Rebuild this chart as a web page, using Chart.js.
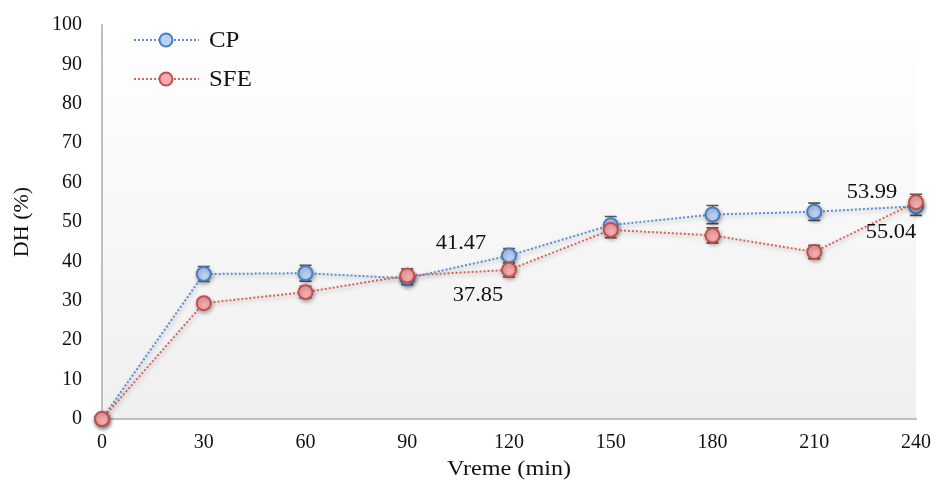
<!DOCTYPE html>
<html>
<head>
<title>DH chart</title>
<script src="https://cdn.jsdelivr.net/npm/chart.js@4.4.1/dist/chart.umd.min.js"></script>
<style>
  body { margin: 0; background: #ffffff; }
  #wrap { width: 936px; height: 485px; position: relative; }
</style>
</head>
<body>
<div id="wrap"><canvas id="dh"></canvas></div>
<script>
// data
var times = [0, 30, 60, 90, 120, 150, 180, 210, 240];
var cpValues = [0, 36.8, 37.0, 35.7, 41.47, 49.2, 51.9, 52.6, 53.99];
var sfeValues = [0, 29.4, 32.2, 36.4, 37.85, 48.0, 46.6, 42.4, 55.04];
var cpErr = [0, 1.9, 2.0, 1.6, 1.8, 2.2, 2.3, 2.2, 2.3];
var sfeErr = [0, 1.2, 1.5, 1.7, 1.8, 2.0, 1.9, 1.7, 2.0];
var yTicks = [0, 10, 20, 30, 40, 50, 60, 70, 80, 90, 100];
var xTitle = 'Vreme (min)';
var yTitle = 'DH (%)';
// value labels: [series, index, dx, dy]
var valueLabels = [[0, 4, -48, -12], [1, 4, -31, 26], [0, 8, -44, -14], [1, 8, -25, 31]];

var serif = "'Liberation Serif', 'Times New Roman', serif";

function pts(vals) {
  return times.map(function (t, i) { return { x: t, y: vals[i] }; });
}

// text a little wider than the font, like the original figure
function wideText(c, txt, x, y, sx) {
  c.save();
  c.translate(x, y);
  c.scale(sx, 1);
  c.fillText(txt, 0, 0);
  c.restore();
}

// plot background, error bars, legend, value labels, axis titles
var extras = {
  id: 'extras',
  beforeDraw: function (chart) {
    var a = chart.chartArea, c = chart.ctx;
    var g = c.createLinearGradient(0, a.top, 0, a.bottom);
    g.addColorStop(0, '#ffffff');
    g.addColorStop(1, '#efefef');
    c.save();
    c.fillStyle = g;
    c.fillRect(a.left, a.top, a.right - a.left, a.bottom - a.top);
    c.restore();
  },
  beforeDatasetsDraw: function (chart) {
    var c = chart.ctx, xs = chart.scales.x, ys = chart.scales.y;
    c.save();
    c.strokeStyle = '#555555';
    c.lineWidth = 1.6;
    [[cpValues, cpErr], [sfeValues, sfeErr]].forEach(function (s) {
      s[0].forEach(function (v, i) {
        var e = s[1][i];
        if (!e) return;
        var x = xs.getPixelForValue(times[i]);
        var y1 = ys.getPixelForValue(v + e), y2 = ys.getPixelForValue(v - e);
        c.beginPath();
        c.moveTo(x, y1); c.lineTo(x, y2);
        c.moveTo(x - 6, y1); c.lineTo(x + 6, y1);
        c.moveTo(x - 6, y2); c.lineTo(x + 6, y2);
        c.stroke();
      });
    });
    c.restore();
    c.save();
    c.shadowColor = 'rgba(0,0,0,0.3)';
    c.shadowBlur = 4;
    c.shadowOffsetX = 1;
    c.shadowOffsetY = 2;
  },
  afterDatasetsDraw: function (chart) {
    chart.ctx.restore();
  },
  afterDraw: function (chart) {
    var c = chart.ctx, xs = chart.scales.x, ys = chart.scales.y;
    var a = chart.chartArea;
    c.save();
    c.font = '20px ' + serif;
    c.fillStyle = '#111111';
    c.textAlign = 'center';
    c.textBaseline = 'middle';
    var series = [cpValues, sfeValues];
    valueLabels.forEach(function (l) {
      var v = series[l[0]][l[1]];
      var x = xs.getPixelForValue(times[l[1]]) + l[2];
      var y = ys.getPixelForValue(v) + l[3];
      wideText(c, v.toFixed(2), x, y, 1.12);
    });
    // axis titles
    c.font = '22px ' + serif;
    wideText(c, xTitle, (a.left + a.right) / 2, a.bottom + 50, 1.1);
    c.save();
    c.translate(22, (a.top + a.bottom) / 2);
    c.rotate(-Math.PI / 2);
    c.fillText(yTitle, 0, 0);
    c.restore();
    // legend inside plot
    chart.data.datasets.forEach(function (ds, i) {
      var y = a.top + 15 + i * 39;
      var x0 = a.left + 32;
      c.strokeStyle = ds.borderColor;
      c.lineWidth = 2;
      c.setLineDash([2, 2]);
      c.beginPath(); c.moveTo(x0, y); c.lineTo(x0 + 65, y); c.stroke();
      c.setLineDash([]);
      c.fillStyle = ds.pointBackgroundColor;
      c.strokeStyle = ds.pointBorderColor;
      c.beginPath(); c.arc(x0 + 32, y, 6.5, 0, Math.PI * 2); c.fill(); c.stroke();
      c.fillStyle = '#111111';
      c.textAlign = 'left';
      c.font = '23px ' + serif;
      wideText(c, ds.label, x0 + 75, y + 1, 1.08);
    });
    c.restore();
  }
};

var ctx = document.getElementById('dh').getContext('2d');
var chart = new Chart(ctx, {
  type: 'line',
  data: {
    datasets: [
      {
        label: 'CP',
        data: pts(cpValues),
        order: 1,
        clip: false,
        borderColor: '#5b8ed6',
        borderWidth: 2,
        borderDash: [2, 2],
        pointRadius: 7,
        pointBorderWidth: 2,
        pointBackgroundColor: '#b9d1f3',
        pointBorderColor: '#4a7cc4',
        fill: false
      },
      {
        label: 'SFE',
        data: pts(sfeValues),
        order: 0,
        clip: false,
        borderColor: '#d9625f',
        borderWidth: 2,
        borderDash: [2, 2],
        pointRadius: 7,
        pointBorderWidth: 2,
        pointBackgroundColor: '#f6aaaa',
        pointBorderColor: '#c0504d',
        fill: false
      }
    ]
  },
  options: {
    responsive: true,
    maintainAspectRatio: false,
    animation: false,
    layout: { autoPadding: false, padding: { top: 25, right: 20, left: 32, bottom: 18 } },
    plugins: { legend: { display: false }, tooltip: { enabled: false } },
    scales: {
      x: {
        type: 'linear',
        min: 0, max: 240,
        afterBuildTicks: function (ax) { ax.ticks = times.map(function (t) { return { value: t }; }); },
        afterFit: function (ax) { ax.paddingRight = 0; ax.paddingLeft = 0; },
        grid: { display: false, drawTicks: false },
        border: { color: '#bfbfbf', width: 2 },
        ticks: { color: '#111111', font: { family: serif, size: 20 }, padding: 12, maxRotation: 0 }
      },
      y: {
        min: 0, max: 100,
        afterBuildTicks: function (ax) { ax.ticks = yTicks.map(function (t) { return { value: t }; }); },
        afterFit: function (ax) { ax.paddingTop = 0; ax.paddingBottom = 0; },
        grid: { display: false, drawTicks: false },
        border: { color: '#bfbfbf', width: 2 },
        ticks: { color: '#111111', font: { family: serif, size: 20 }, padding: 20 }
      }
    }
  },
  plugins: [extras]
});
</script>
</body>
</html>
